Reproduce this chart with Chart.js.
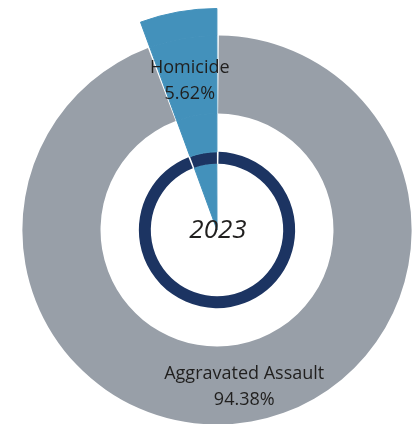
<!DOCTYPE html>
<html><head><meta charset="utf-8">
<script src="https://cdn.jsdelivr.net/npm/chart.js@4/dist/chart.umd.min.js"></script>
<style>
html,body{margin:0;padding:0;width:415px;height:424px;overflow:hidden;background:#fff;}
#wrap{position:absolute;left:-5px;top:8px;width:444px;height:444px;}
</style></head><body>
<div id="wrap"><canvas id="c"></canvas></div>
<script>
const categories = ['Aggravated Assault', 'Homicide'];
const shares = [94.38, 5.62];
const yearLabel = '2023';

const GRAY = '#989FA8', BLUE = '#4391BB', NAVY = '#1C3462', CLEAR = 'rgba(0,0,0,0)';
// rings from outside to inside; weight = ring thickness
const rings = [
  {w: 27,   colors: [CLEAR, BLUE]},
  {w: 78.5, colors: [GRAY, BLUE], labelled: true},
  {w: 38.5, colors: [CLEAR, BLUE]},
  {w: 12,   colors: [NAVY, NAVY]},
  {w: 66,   colors: [CLEAR, BLUE]}
];

const labelPlugin = {
  id: 'ringLabels',
  afterDatasetsDraw(chart) {
    const ctx = chart.ctx;
    const idx = rings.findIndex(r => r.labelled);
    const meta = chart.getDatasetMeta(idx);
    ctx.save();
    ctx.fillStyle = '#201F1E';
    ctx.textAlign = 'center';
    ctx.textBaseline = 'middle';
    ctx.font = '18px "Open Sans"';
    meta.data.forEach((arc, i) => {
      const mid = (arc.startAngle + arc.endAngle) / 2;
      const r = (arc.innerRadius + arc.outerRadius) / 2;
      const x = arc.x + Math.cos(mid) * r, y = arc.y + Math.sin(mid) * r + 4;
      ctx.fillText(categories[i], x, y - 13);
      ctx.fillText(shares[i].toFixed(2) + '%', x, y + 13);
    });
    const a = meta.data[0];
    ctx.font = 'italic 26px "Open Sans"';
    ctx.fillText(yearLabel, a.x + 1, a.y + 1);
    ctx.restore();
  }
};

new Chart(document.getElementById('c'), {
  type: 'doughnut',
  data: {
    labels: categories,
    datasets: rings.map(r => ({
      data: shares,
      weight: r.w,
      backgroundColor: r.colors,
      borderColor: r.colors.map(c => c === BLUE ? BLUE : CLEAR),
      borderWidth: r.colors.map(c => c === BLUE ? 1 : 0),
      hoverBorderWidth: 0,
      hoverOffset: 0
    }))
  },
  options: {
    responsive: true,
    maintainAspectRatio: false,
    animation: false,
    cutout: 0,
    spacing: 1,
    events: [],
    layout: {padding: 0},
    plugins: {legend: {display: false}, tooltip: {enabled: false}}
  },
  plugins: [labelPlugin]
});
</script>
</body></html>
